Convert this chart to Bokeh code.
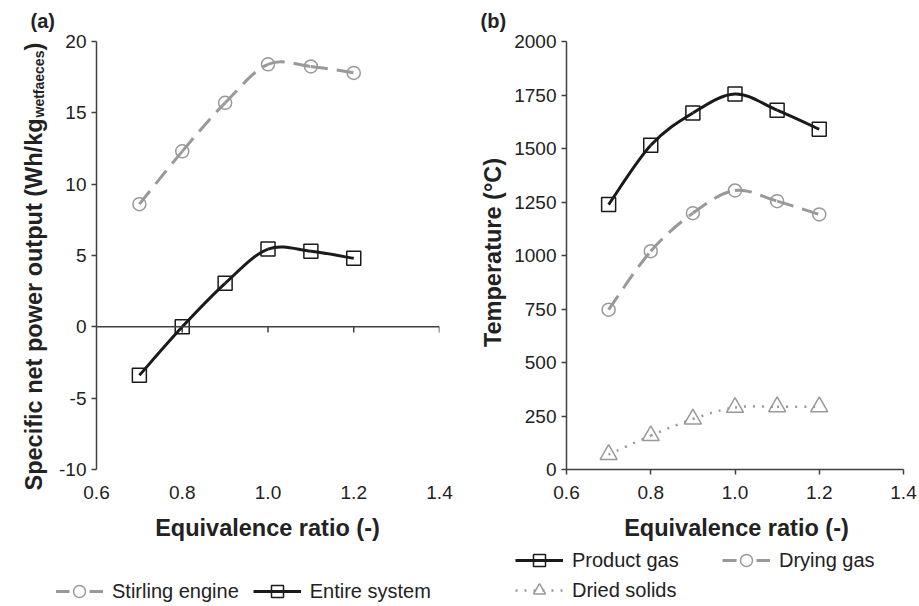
import numpy as np
from bokeh.plotting import figure
from bokeh.models import (Label, Span, Legend, LegendItem, FixedTicker, Range1d)
from bokeh.layouts import row, column
from bokeh.embed import file_html
from bokeh.resources import INLINE

# ---------------- data ----------------
er = [0.7, 0.8, 0.9, 1.0, 1.1, 1.2]
stirling_engine = [8.6, 12.3, 15.7, 18.4, 18.25, 17.8]
entire_system = [-3.4, 0.0, 3.05, 5.45, 5.3, 4.8]
product_gas = [1238, 1515, 1666, 1755, 1679, 1590]
drying_gas = [747, 1020, 1198, 1304, 1254, 1192]
dried_solids = [70, 158, 236, 290, 293, 293]

x_ticks = [0.6, 0.8, 1.0, 1.2, 1.4]
x_tick_labels = ["0.6", "0.8", "1.0", "1.2", "1.4"]
ya_ticks = [-10, -5, 0, 5, 10, 15, 20]
ya_tick_labels = ["-10", "-5", "0", "5", "10", "15", "20"]
yb_ticks = [0, 250, 500, 750, 1000, 1250, 1500, 1750, 2000]

FONT = "Liberation Sans"
BLACK = "#1a1a1a"
GRAY = "#999999"
AXIS = "#404040"
TEXT = "#222222"
TOP_H = 510          # height of the chart row
BOT_H = 606 - TOP_H  # height of the title/legend strip
FR_TOP, FR_BOT = 41, 469   # frame top / bottom (page pixels)
TA_W = 56            # width of the strip holding the (a) y title
TB_X, TB_W = 460, 48  # strip holding the (b) y title


def smooth_segments(x, y):
    """Cubic Bezier control points (Catmull-Rom style) for a smoothed line."""
    x = np.asarray(x, float)
    y = np.asarray(y, float)
    n = len(x)
    d = dict(x0=[], y0=[], x1=[], y1=[], cx0=[], cy0=[], cx1=[], cy1=[])
    for i in range(n - 1):
        a = max(i - 1, 0)
        b = min(i + 2, n - 1)
        d["x0"].append(x[i]); d["y0"].append(y[i])
        d["x1"].append(x[i + 1]); d["y1"].append(y[i + 1])
        d["cx0"].append(x[i] + (x[i + 1] - x[a]) / 6)
        d["cy0"].append(y[i] + (y[i + 1] - y[a]) / 6)
        d["cx1"].append(x[i + 1] - (x[b] - x[i]) / 6)
        d["cy1"].append(y[i + 1] - (y[b] - y[i]) / 6)
    return d


def base_fig(width, left, right, y0, y1, yticks):
    p = figure(width=width, height=TOP_H, x_range=Range1d(0.6, 1.4),
               y_range=Range1d(y0, y1), output_backend="svg",
               toolbar_location=None, min_border_left=left,
               min_border_right=right, min_border_top=FR_TOP,
               min_border_bottom=TOP_H - FR_BOT)
    p.outline_line_color = None
    p.xgrid.visible = False
    p.ygrid.visible = False
    p.background_fill_color = "white"
    p.border_fill_color = "white"
    for ax in (p.xaxis[0], p.yaxis[0]):
        ax.major_label_text_font = FONT
        ax.major_label_text_font_size = "19px"
        ax.major_label_text_color = TEXT
        ax.minor_tick_line_color = None
        ax.major_tick_in = 0
        ax.major_tick_out = 5
        ax.major_tick_line_color = AXIS
        ax.major_tick_line_width = 1.5
        ax.axis_line_color = AXIS
        ax.axis_line_width = 1.5
    p.xaxis.ticker = FixedTicker(ticks=x_ticks)
    p.xaxis.major_label_overrides = {t: s for t, s in zip(x_ticks, x_tick_labels)}
    p.yaxis.ticker = FixedTicker(ticks=yticks)
    p.yaxis.major_label_standoff = 5
    return p


def text_fig(width, height, top, bottom):
    """Blank figure whose data coordinates equal page pixel coordinates."""
    t = figure(width=width, height=height, x_range=Range1d(0, width),
               y_range=Range1d(height - bottom, top), output_backend="svg",
               toolbar_location=None, min_border_left=0, min_border_right=0,
               min_border_top=top, min_border_bottom=bottom)
    t.axis.visible = False
    t.grid.visible = False
    t.outline_line_color = None
    t.background_fill_color = "white"
    t.border_fill_color = "white"
    return t


def set_tag(fig, tag, offset):
    """Panel tag "(a)" / "(b)" as the strip's title, above its frame."""
    fig.title.text = tag
    fig.title.align = "left"
    fig.title.offset = offset
    fig.title.vertical_align = "top"
    fig.title.standoff = 16
    fig.title.text_font = FONT
    fig.title.text_font_size = "20px"
    fig.title.text_font_style = "bold"
    fig.title.text_color = TEXT


def add_label(p, x, y, text, size, bold=True, angle=0.0, align="left",
              baseline="alphabetic"):
    p.add_layout(Label(x=x, y=y, text=text, text_font=FONT,
                       text_font_size=size,
                       text_font_style="bold" if bold else "normal",
                       text_color=TEXT, angle=angle, text_align=align,
                       text_baseline=baseline))


def style_legend(leg):
    leg.label_text_font = FONT
    leg.label_text_font_size = "20px"
    leg.label_text_color = TEXT
    leg.border_line_color = None
    leg.background_fill_alpha = 0
    leg.padding = 0
    leg.margin = 0
    leg.glyph_width = 48
    leg.glyph_height = 30
    leg.label_standoff = 9
    leg.orientation = "horizontal"


# ---------------- panel (a) ----------------
pa = base_fig(460 - TA_W, 94 - TA_W, 21, -10, 20, ya_ticks)
pa.yaxis.major_label_overrides = {t: s for t, s in zip(ya_ticks, ya_tick_labels)}

# x axis drawn at zero
pa.xaxis.axis_line_color = None
pa.xaxis.major_tick_out = 0
pa.xaxis.major_label_standoff = 16
pa.add_layout(Span(location=0, dimension="width", line_color=AXIS,
                   line_width=1.5))
pa.segment(x0=x_ticks[1:], y0=[0] * 4, x1=x_ticks[1:], y1=[-0.4] * 4,
           line_color=AXIS, line_width=1.5)

pa.bezier(**smooth_segments(er, stirling_engine), line_color=GRAY,
          line_width=3, line_dash="17 9")
pa.bezier(**smooth_segments(er, entire_system), line_color=BLACK, line_width=3)
pa.scatter(er, stirling_engine, marker="circle", size=13,
           line_color=GRAY, line_width=1.5, fill_alpha=0)
pa.scatter(er, entire_system, marker="square", size=14,
           line_color=BLACK, line_width=1.5, fill_alpha=0)

# full-height strip for the (a) tag and y-axis title (page y == data y)
ta = text_fig(TA_W, 606, FR_TOP, FR_TOP)
set_tag(ta, "(a)", 30)
add_label(ta, 33, 490, "Specific net power output (Wh/kg", "23.5px",
          angle=np.pi / 2)
add_label(ta, 38, 117, "wetfaeces", "14px", angle=np.pi / 2)
add_label(ta, 33, 50, ")", "23.5px", angle=np.pi / 2)

# ---------------- panel (b) ----------------
pb = base_fig(919 - TB_X - TB_W, 566 - TB_X - TB_W, 16, 0, 2000, yb_ticks)
pb.xaxis.major_label_standoff = 11

pb.bezier(**smooth_segments(er, product_gas), line_color=BLACK, line_width=3)
pb.bezier(**smooth_segments(er, drying_gas), line_color=GRAY, line_width=3,
          line_dash="17 9")
pb.bezier(**smooth_segments(er, dried_solids), line_color=GRAY,
          line_width=2.5, line_dash="2 7")
pb.scatter(er, product_gas, marker="square", size=14,
           line_color=BLACK, line_width=1.5, fill_alpha=0)
pb.scatter(er, drying_gas, marker="circle", size=13,
           line_color=GRAY, line_width=1.5, fill_alpha=0)
pb.scatter(er, dried_solids, marker="triangle", size=17,
           line_color=GRAY, line_width=1.5, fill_alpha=0)

tb = text_fig(TB_W, TOP_H, FR_TOP, TOP_H - FR_BOT)
set_tag(tb, "(b)", 480 - TB_X)
add_label(tb, 492 - TB_X, 252, "Temperature (°C)", "23.5px",
          angle=np.pi / 2, align="center")

# ---------------- bottom strip: axis titles and legends ----------------
BOT_W = 919 - TA_W
bot = text_fig(BOT_W, BOT_H, 0, 0)
add_label(bot, 267 - TA_W, 527 - TOP_H, "Equivalence ratio (-)", "23.5px",
          align="center")
add_label(bot, 736 - TA_W, 527 - TOP_H, "Equivalence ratio (-)", "23.5px",
          align="center")


def legend_entry(fig, color, width, dash, marker, size):
    # legend proxies: a single point kept outside the visible strip
    ln = fig.line(x=[-100, -90], y=[-100, -100], line_color=color,
                  line_width=width, line_dash=dash)
    mk = fig.scatter(x=[-100], y=[-100], marker=marker, size=size,
                     line_color=color, line_width=1.5, fill_alpha=0)
    return [ln, mk]


leg_a = Legend(items=[
    LegendItem(label="Stirling engine",
               renderers=legend_entry(bot, GRAY, 3, "14 20", "circle", 13)),
    LegendItem(label="Entire system",
               renderers=legend_entry(bot, BLACK, 3, "solid", "square", 14))],
    location=(55 - TA_W, 0))
style_legend(leg_a)
leg_a.spacing = 14
bot.add_layout(leg_a)

leg_b = Legend(items=[
    LegendItem(label="Product gas",
               renderers=legend_entry(bot, BLACK, 3, "solid", "square", 14)),
    LegendItem(label="Drying gas",
               renderers=legend_entry(bot, GRAY, 3, "14 20", "circle", 13)),
    LegendItem(label="Dried solids",
               renderers=legend_entry(bot, GRAY, 2.5, "2 7", "triangle", 15))],
    location=(515 - TA_W, 1))
style_legend(leg_b)
leg_b.ncols = 2
leg_b.spacing = 0
leg_b.label_width = 150
bot.add_layout(leg_b)

layout = row(ta, column(row(pa, tb, pb), bot))
open("out.html", "w").write(file_html(layout, INLINE))
